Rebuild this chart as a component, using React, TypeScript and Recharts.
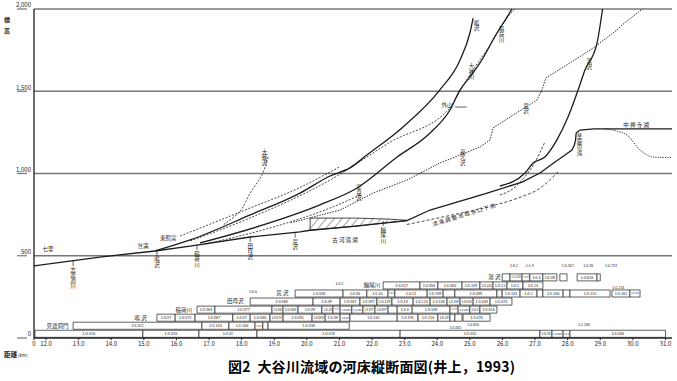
import {
  ComposedChart, Line, Area, XAxis, YAxis, CartesianGrid,
  ReferenceArea, ReferenceDot, ReferenceLine,
} from 'recharts'

// 距離 (km) / 標高 (m)
const xTicks = [11.63, 12, 13, 14, 15, 16, 17, 18, 19, 20, 21, 22, 23, 24, 25, 26, 27, 28, 29, 30, 31]
const yTicks = [0, 500, 1000, 1500, 2000]

// river bed profiles [km, m]
const mainBed = [
  [11.63, 438], [13.65, 492], [15.34, 529], [16.42, 559], [18.26, 614], [19.79, 645],
  [20.1, 655], [21.5, 680], [23.07, 713], [23.78, 778], [25.53, 881], [26.6, 948],
  [27.15, 1003], [27.61, 1070], [27.92, 1112], [28.13, 1143], [28.2, 1170], [28.24, 1200],
  [28.26, 1246], [28.38, 1264], [28.8, 1271], [31.2, 1271],
]
const narusawa = [
  [15.34, 529], [16.42, 596], [18.26, 748], [19.79, 881], [20.71, 985], [21.32, 1034],
  [21.84, 1112], [22.95, 1283], [24.08, 1508], [24.7, 1690], [25.0, 1854], [25.1, 1945],
]
const narusawaOld = [[16.11, 620], [18.26, 790], [19.79, 915], [20.71, 1009], [21.0, 1040]]
const inari = [
  [16.72, 578], [18.56, 681], [20.4, 809], [21.54, 912], [22.77, 1100], [23.78, 1246],
  [24.39, 1386], [24.7, 1508], [25.0, 1587], [25.31, 1672], [25.83, 1854], [26.14, 1951], [26.29, 2000],
]
const inariOld = [
  [16.42, 590], [18.26, 730], [20.71, 960], [22.55, 1190], [24.39, 1400], [24.6, 1470],
  [25.0, 1600], [25.62, 1781], [26.2, 1960], [26.38, 2000],
]
const tamozawaOld = [[16.88, 571], [19.18, 687], [20.71, 790], [21.63, 869]]
const arasawa = [
  [19.5, 700], [21.02, 778], [22.03, 881], [23.07, 960], [24.08, 1064], [24.7, 1112],
  [25.31, 1161], [25.62, 1204], [25.71, 1277], [26.23, 1343], [27.06, 1447], [27.21, 1508],
  [27.33, 1581], [28.07, 1672], [28.78, 1762], [29.51, 1872], [29.67, 1903], [30.29, 2000],
]
const yuzawa = [
  [25.92, 924], [26.69, 1003], [26.94, 1064], [27.3, 1100], [27.67, 1204], [28.01, 1343],
  [28.32, 1508], [28.53, 1629], [28.9, 1793], [29.07, 2000],
]
const yuzawaOld = [[25.92, 869], [26.3, 905], [26.6, 960], [27.0, 1070], [27.3, 1191]]
const kiyotakiCanal = [
  [23.07, 690], [24.39, 745], [25.62, 800], [26.6, 860], [27.15, 910], [27.45, 960], [27.7, 1010],
]
const onagiSawa = [[17.45, 690], [17.64, 717], [18.04, 796], [18.26, 881], [18.47, 942], [18.65, 1003], [18.81, 1100]]
const lakeBottom = [[29.15, 1271], [29.51, 1258], [29.82, 1234], [30.22, 1143], [30.62, 1100], [31.2, 1097]]
// [km, bottom m, top m]
const sediment = [[20.1, 655, 729], [21.5, 680, 729], [22.5, 702, 723], [23.07, 713, 716]]

// 勾配表 rows [from km, to km, text]
const row0 = [
  [11.66, 14.97, '1:0.026'], [14.97, 16.69, '1:0.035'], [16.69, 18.47, '1:0.02'], [18.47, 22.86, '1:0.028'],
  [22.86, 27.15, '1:0.042'], [27.15, 27.52, '1:0.19'], [27.52, 27.86, '1:0.084'], [27.86, 28.07, '1:0.2'],
  [28.07, 31.0, '1:0.006'],
]
const row1 = [
  [12.83, 16.78, '1:0.032'], [16.78, 17.61, '1:0.144'], [17.61, 18.41, '1:0.256'], [18.41, 18.65, '1:0.4'],
  [18.65, 18.81, ''], [18.81, 21.3, '1:0.036'],
]
const row2 = [
  [15.4, 15.96, '1:0.07'], [15.96, 16.57, '1:0.073'], [16.57, 17.73, '1:0.067'], [17.73, 18.26, '1:0.07'],
  [18.26, 18.87, '1:0.065'], [18.87, 19.27, '1:0.075'], [19.27, 20.16, '1:0.081'], [20.16, 20.56, '1:0.083'],
  [20.56, 21.02, '1:0.09'], [21.02, 21.32, '1:0.05'], [21.32, 22.77, '1:0.162'], [22.77, 23.41, '1:0.191'],
  [23.41, 24.02, '1:0.216'], [24.02, 24.39, '1:0.39'], [24.39, 24.54, ''], [24.54, 24.76, ''],
  [24.79, 25.62, '1:0.475'],
]
const row3 = [
  [16.63, 17.18, '1:0.064'], [17.18, 18.93, '1:0.077'], [18.93, 19.27, '1:0.06'], [19.27, 19.73, '1:0.088'],
  [19.73, 20.46, '1:0.09'], [20.46, 20.8, '1:0.10'], [20.8, 21.02, '1:0.11'], [21.02, 21.38, '1:0.099'],
  [21.38, 21.72, '1:0.102'], [21.72, 22.09, '1:0.077'], [22.09, 22.49, '1:0.097'], [22.49, 22.77, ''],
  [22.77, 23.23, '1:0.8'], [23.23, 24.39, '1:0.169'], [24.39, 24.64, '1:0.163'], [24.64, 25.0, '1:0.225'],
  [25.0, 25.31, '1:0.5'], [25.31, 25.83, '1:0.516'],
]
const row4 = [
  [18.26, 20.19, '1:0.068'], [20.19, 21.02, '1:0.09'], [21.02, 21.63, '1:0.067'], [21.63, 22.15, '1:0.097'],
  [22.15, 22.61, '1:0.129'], [22.61, 23.26, '1:0.18'], [23.26, 23.78, '1:0.214'], [23.78, 24.3, '1:0.158'],
  [24.3, 24.7, '1:0.164'], [24.7, 25.1, '1:0.316'], [25.1, 25.62, '1:0.448'], [25.62, 26.29, '1:0.475'],
]
const row5 = [
  [19.64, 21.11, '1:0.048'], [21.11, 21.84, '1:0.05'], [21.84, 22.49, '1:0.15'], [22.49, 22.7, '1:0.4'],
  [22.7, 23.69, '1:0.11'], [23.69, 24.18, '1:0.109'], [24.18, 24.54, ''], [24.54, 25.83, '1:0.088'],
  [25.83, 25.99, ''], [25.99, 26.54, '1:0.151'], [26.54, 27.06, '1:0.2'], [27.06, 27.24, ''],
  [27.24, 27.86, '1:0.156'], [27.86, 28.07, ''], [28.07, 29.3, '1:0.133'], [29.36, 29.91, '1:0.162'],
  [29.91, 30.22, '1:0.10'],
]
const row6 = [
  [22.34, 23.47, '1:0.017'], [23.47, 24.02, '1:0.058'], [24.02, 24.76, '1:0.058'], [24.76, 25.31, '1:0.109'],
  [25.31, 25.71, '1:0.102'], [25.71, 26.14, '1:0.13'], [26.14, 26.63, '1:0.1'], [26.63, 27.24, '1:0.24'],
]
const row7 = [
  [25.99, 26.23, ''], [26.23, 26.6, '1:0.103'], [26.6, 26.84, '1:0.023'], [26.84, 27.24, '1:0.4'],
  [27.24, 27.67, '1:0.100'], [27.76, 27.98, ''], [28.29, 28.9, '1:0.635'], [28.9, 29.0, ''],
]
const gradientRows = [row0, row1, row2, row3, row4, row5, row6, row7]

// [km, m, text, kind]  h: horizontal, v: vertical with tick, V: vertical
const placeNames = [
  [12.06, 541, '七里', 'h'], [12.83, 468, '志渡淵川', 'v'], [14.97, 562, '含満', 'h'],
  [15.4, 531, '鳴沢', 'v'], [15.75, 608, '東照宮', 'h'], [16.63, 565, '稲荷川', 'v'],
  [18.26, 614, '田母沢', 'v'], [19.64, 640, '荒沢', 'v'], [18.7, 1150, '大薙沢', 'V'],
  [21.17, 595, '古 河 滝 湖', 'h'], [22.34, 712, '細尾川', 'v'], [24.85, 738, '清滝調整池取水口下流', -17],
  [24.3, 1415, '外山', 'h'], [25.2, 1935, '鳴沢', 'V'], [25.97, 1895, '稲荷川', 'V'],
  [25.05, 1670, '大谷川', 'V'], [26.72, 1430, '荒沢', 'V'], [28.66, 1700, '湯沢', 'V'],
  [28.36, 1245, '華厳の滝', 'V'], [30.1, 1295, '中 禅 寺 湖', 'h'], [24.78, 1150, '寂光沢', 'V'],
  [21.6, 935, '安良沢', 'V'],
]
const tableNames = [
  [12.35, 75, '見渡洞門'], [14.9, 124, '鳴 沢'], [16.22, 173, '稲荷川'], [17.8, 222, '田母沢'],
  [19.25, 271, '荒 沢'], [22.0, 320, '細尾川'], [25.75, 369, '湯 沢'],
]
const floatRatios = [
  [18.35, 280, '1:0.5'], [21.0, 330, '1:0.2'], [24.55, 62, '1:0.062'], [25.1, 80, '1:0.625'],
  [28.5, 80, '1:1.385'], [26.35, 440, '1:0.2'], [26.84, 440, '1:1.4'], [28.0, 440, '1:0.357'],
  [28.63, 440, '1:0.36'], [29.33, 440, '1:0.733'], [29.55, 305, '1:0.218'],
]

const INK = '#1c1c1c'
const PX_PER_KM = 32.6
const pts = (a: number[][]) => a.map(([x, y]) => ({ x, y }))

const curves = [
  { key: 'main', d: mainBed, w: 1.3, dash: undefined, type: 'linear' },
  { key: 'naru', d: narusawa, w: 1.3, dash: undefined, type: 'monotone' },
  { key: 'naruOld', d: narusawaOld, w: 0.8, dash: '2 1.5', type: 'monotone' },
  { key: 'inari', d: inari, w: 1.3, dash: undefined, type: 'monotone' },
  { key: 'inariOld', d: inariOld, w: 0.8, dash: '2 1.5', type: 'monotone' },
  { key: 'tamo', d: tamozawaOld, w: 0.8, dash: '2 1.5', type: 'monotone' },
  { key: 'ara', d: arasawa, w: 0.9, dash: '1.5 1.2', type: 'linear' },
  { key: 'yu', d: yuzawa, w: 1.3, dash: undefined, type: 'monotone' },
  { key: 'yuOld', d: yuzawaOld, w: 0.8, dash: '2.5 1.5', type: 'monotone' },
  { key: 'canal', d: kiyotakiCanal, w: 0.8, dash: '3 2', type: 'monotone' },
  { key: 'onagi', d: onagiSawa, w: 0.8, dash: '2 1.5', type: 'monotone' },
  { key: 'lake', d: lakeBottom, w: 0.9, dash: '1.2 1.2', type: 'monotone' },
]

// eslint-disable-next-line @typescript-eslint/no-explicit-any
function Tag({ cx, cy, text, kind, size = 5.5 }: any) {
  if (kind === 'h') {
    return <text x={cx} y={cy} fontSize={size} textAnchor="middle" dominantBaseline="central" fill={INK}>{text}</text>
  }
  if (typeof kind === 'number') {
    return (
      <text x={cx} y={cy} fontSize={size} textAnchor="middle" letterSpacing={1.2} fill={INK}
        transform={`rotate(${kind} ${cx} ${cy})`}>{text}</text>
    )
  }
  const top = kind === 'v' ? cy + 6 : cy
  return (
    <g>
      {kind === 'v' && <line x1={cx} x2={cx} y1={cy} y2={cy + 5} stroke={INK} strokeWidth={0.7} />}
      <text x={cx} y={top} fontSize={size} fill={INK} style={{ writingMode: 'vertical-rl' }}>{text}</text>
    </g>
  )
}

// eslint-disable-next-line @typescript-eslint/no-explicit-any
function YTick({ x, y, payload }: any) {
  return (
    <g>
      <line x1={17} x2={x + 1} y1={y} y2={y} stroke="#777" strokeWidth={1.2} />
      <text x={31} y={y - 1.6} fontSize={6} textAnchor="end" fill={INK}>
        {payload.value.toLocaleString('en-US')}
      </text>
    </g>
  )
}

// shrink a ratio text so it stays inside its box
const fitSize = (a: number, b: number, t: string) =>
  Math.min(3.8, ((b - a) * PX_PER_KM - 1) / Math.max(1, t.length * 0.56))

export default function App() {
  return (
    <div style={{ position: 'absolute', left: 0, top: 0, width: 677, height: 381, background: '#fff',
      fontFamily: '"Noto Sans CJK JP", "Noto Sans", sans-serif' }}>
      <ComposedChart width={677} height={381} margin={{ top: 9, right: 5, left: 0, bottom: 23 }}>
        <defs>
          <pattern id="hatch" width="6" height="6" patternUnits="userSpaceOnUse" patternTransform="rotate(40)">
            <line x1="0" y1="0" x2="0" y2="6" stroke={INK} strokeWidth="0.8" />
          </pattern>
        </defs>
        <CartesianGrid vertical={false} stroke="#777" strokeWidth={1.3} />
        <XAxis
          type="number" dataKey="x" domain={[11.63, 31.2]} ticks={xTicks} allowDataOverflow
          height={20} tickSize={2} tickMargin={2}
          tick={{ fontSize: 6, fill: INK }}
          tickFormatter={(v) => (v < 11.9 ? '0' : v.toFixed(1))}
          axisLine={{ stroke: INK, strokeWidth: 1.2 }} tickLine={{ stroke: INK }}
        />
        <YAxis
          type="number" domain={[0, 2000]} ticks={yTicks} width={34}
          tickLine={false} tick={<YTick />}
          axisLine={{ stroke: INK, strokeWidth: 1.3 }}
        />
        <Area
          data={sediment.map(([x, lo, hi]) => ({ x, r: [lo, hi] }))}
          dataKey="r" type="linear" stroke={INK} strokeWidth={0.8}
          fill="url(#hatch)" fillOpacity={1} isAnimationActive={false}
        />
        <ReferenceLine segment={[{ x: 20.1, y: 655 }, { x: 20.1, y: 729 }]} stroke={INK} strokeWidth={0.8} />
        <ReferenceLine segment={[{ x: 24.55, y: 1404 }, { x: 24.9, y: 1404 }]} stroke={INK} strokeWidth={0.7} />
        {curves.map((c) => (
          <Line
            key={c.key} data={pts(c.d)} dataKey="y" type={c.type as 'linear'}
            stroke={INK} strokeWidth={c.w} strokeDasharray={c.dash}
            dot={false} activeDot={false} isAnimationActive={false}
          />
        ))}
        {gradientRows.flatMap((row, i) => row.map(([a, b, t], j) => (
          <ReferenceArea
            key={`r${i}-${j}`} x1={a as number} x2={b as number} y1={i * 49 + 4} y2={i * 49 + 47}
            stroke={INK} strokeWidth={0.7} fill="#fff" fillOpacity={1} ifOverflow="visible"
            label={t ? {
              value: t as string, position: 'center', fill: INK,
              fontSize: fitSize(a as number, b as number, t as string),
            } : undefined}
          />
        )))}
        {placeNames.map(([x, y, t, k], i) => (
          <ReferenceDot key={`p${i}`} x={x as number} y={y as number} r={0} ifOverflow="visible"
            shape={(p: { cx: number; cy: number }) => <Tag cx={p.cx} cy={p.cy} text={t} kind={k} />} />
        ))}
        {tableNames.map(([x, y, t], i) => (
          <ReferenceDot key={`t${i}`} x={x as number} y={y as number} r={0} ifOverflow="visible"
            shape={(p: { cx: number; cy: number }) => <Tag cx={p.cx} cy={p.cy} text={t} kind="h" size={5.5} />} />
        ))}
        {floatRatios.map(([x, y, t], i) => (
          <ReferenceDot key={`f${i}`} x={x as number} y={y as number} r={0} ifOverflow="visible"
            shape={(p: { cx: number; cy: number }) => <Tag cx={p.cx} cy={p.cy} text={t} kind="h" size={3.6} />} />
        ))}
      </ComposedChart>
      <div style={{ position: 'absolute', left: 4, top: 14, fontSize: 6, fontWeight: 700, lineHeight: '11px', color: INK }}>
        標<br />高
      </div>
      <div style={{ position: 'absolute', left: 4, top: 349, fontSize: 6.5, fontWeight: 700, color: INK, whiteSpace: 'nowrap' }}>
        距離<span style={{ fontSize: 4.5, fontWeight: 400 }}> (km)</span>
      </div>
      <div style={{ position: 'absolute', left: 228, top: 356, fontSize: 14, fontWeight: 700, color: '#000', whiteSpace: 'nowrap', letterSpacing: 0.2 }}>
        図2&nbsp; 大谷川流域の河床縦断面図(井上，1993)
      </div>
    </div>
  )
}
